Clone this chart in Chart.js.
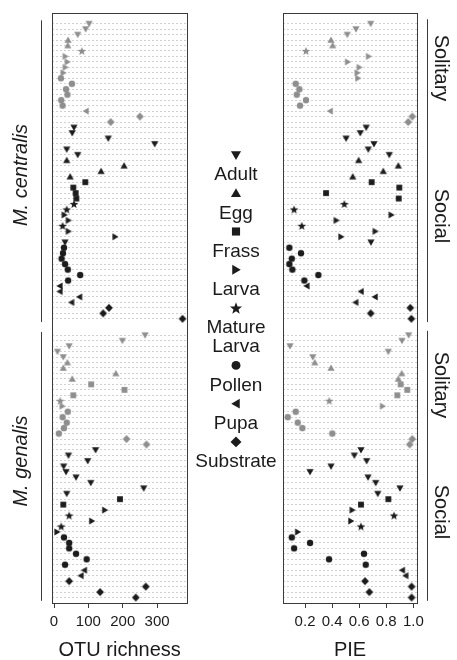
<!DOCTYPE html>
<html><head><meta charset="utf-8">
<script src="https://cdn.jsdelivr.net/npm/chart.js@4/dist/chart.umd.min.js"></script>
<style>
html,body{margin:0;padding:0;background:#fff;overflow:hidden;}
#wrap{position:relative;width:457px;height:660px;}
canvas{position:absolute;top:0;}
#c1{left:0;} #c2{left:270px;}
</style></head><body>
<div id="wrap"><canvas id="c1" width="457" height="660"></canvas><canvas id="c2" width="187" height="660"></canvas></div>
<script>
// ---------- data (rows listed top to bottom) ----------
const TYPE_NAMES = {A:'Adult',E:'Egg',F:'Frass',L:'Larva',M:'Mature Larva',P:'Pollen',U:'Pupa',S:'Substrate'};
const legendTypes = ['A','E','F','L','M','P','U','S'];
const otuTicks = [0, 100, 200, 300];
const pieTicks = [0.2, 0.4, 0.6, 0.8, 1.0];

// M. centralis – Solitary
const cenSolTypeOTU = ['A','A','A','E','E','M','L','L','L','L','P','P','P','P','P','P','U','S','S'];
const cenSolTypePIE = ['A','A','A','E','E','M','L','L','L','L','L','P','P','P','P','P','U','S','S'];
const cenSolOTU = [102, 92, 69, 41, 40, 81, 33, 39, 33, 27, 20, 52, 35, 39, 21, 25, 93, 250, 165];
const cenSolPIE = [0.685, 0.576, 0.512, 0.392, 0.404, 0.207, 0.670, 0.515, 0.601, 0.586, 0.591, 0.131, 0.158, 0.139, 0.207, 0.163, 0.385, 0.992, 0.962];
// M. centralis – Social
const cenSocType = ['A','A','A','A','A','A','E','E','E','E','F','F','F','F','M','M','L','L','M','L','L','A','P','P','P','P','P','P','P','U','U','U','U','S','S','S'];
const cenSocOTU = [58, 53, 158, 293, 37, 69, 37, 204, 137, 47, 91, 56, 63, 65, 58, 37, 30, 42, 25, 42, 178, 32, 29, 26, 22, 32, 40, 76, 41, 17, 17, 74, 51, 160, 143, 374];
const cenSocPIE = [0.652, 0.608, 0.503, 0.709, 0.667, 0.822, 0.596, 0.889, 0.778, 0.552, 0.692, 0.896, 0.355, 0.892, 0.490, 0.119, 0.837, 0.431, 0.176, 0.719, 0.466, 0.687, 0.084, 0.170, 0.102, 0.084, 0.106, 0.298, 0.195, 0.213, 0.613, 0.717, 0.574, 0.977, 0.685, 0.985];
// M. genalis – Solitary
const genSolType = ['A','A','A','A','A','E','E','E','E','F','F','F','M','L','P','P','P','P','P','S','S'];
const genSolOTU = [265, 199, 44, 10, 27, 39, 27, 180, 53, 108, 205, 56, 18, 24, 40, 25, 37, 29, 14, 211, 269];
const genSolPIE = [0.965, 0.916, 0.089, 0.815, 0.257, 0.272, 0.392, 0.914, 0.889, 0.906, 0.955, 0.881, 0.379, 0.773, 0.131, 0.072, 0.146, 0.180, 0.401, 0.992, 0.973];
// M. genalis – Social
const genSocType = ['A','A','A','A','A','A','A','A','A','F','F','L','M','L','M','L','P','P','P','P','P','P','U','U','S','S','S','S'];
const genSocOTU = [121, 42, 98, 28, 35, 64, 107, 261, 37, 192, 27, 148, 44, 110, 21, 9, 29, 44, 44, 64, 95, 32, 88, 78, 44, 267, 134, 238];
const genSocPIE = [0.613, 0.564, 0.655, 0.392, 0.237, 0.665, 0.722, 0.901, 0.737, 0.815, 0.613, 0.549, 0.857, 0.539, 0.613, 0.146, 0.102, 0.237, 0.119, 0.635, 0.377, 0.648, 0.918, 0.943, 0.643, 0.987, 0.675, 0.987];

// ---------- styling / layout ----------
const GRAY = '#8e8e8e', BLACK = '#1c1c1c', TEXT = '#1a1a1a', FRAME = '#3a3a3a';
const FONT = '"Liberation Sans", Arial, Helvetica, sans-serif';
Chart.defaults.font.family = FONT;
Chart.defaults.color = TEXT;

const groups = [
  {species:'M. centralis', social:'Solitary', start:1,  labelY:68,  color:GRAY,  tOTU:cenSolTypeOTU, tPIE:cenSolTypePIE, OTU:cenSolOTU, PIE:cenSolPIE},
  {species:'M. centralis', social:'Social',   start:20, labelY:216, color:BLACK, tOTU:cenSocType,    tPIE:cenSocType,    OTU:cenSocOTU, PIE:cenSocPIE},
  {species:'M. genalis',   social:'Solitary', start:58, labelY:385, color:GRAY,  tOTU:genSolType,    tPIE:genSolType,    OTU:genSolOTU, PIE:genSolPIE},
  {species:'M. genalis',   social:'Social',   start:79, labelY:512, color:BLACK, tOTU:genSocType,    tPIE:genSocType,    OTU:genSocOTU, PIE:genSocPIE}
];
const speciesLabelY = {'M. centralis': 175, 'M. genalis': 461};
const dataRows = [];
groups.forEach(g => g.OTU.forEach((_, i) => dataRows.push(g.start + i)));

function markerPath(ctx, t, x, y, s) {
  ctx.beginPath();
  switch (t) {
    case 'A': ctx.moveTo(x-3.6*s, y-2.7*s); ctx.lineTo(x+3.6*s, y-2.7*s); ctx.lineTo(x, y+3.5*s); break;
    case 'E': ctx.moveTo(x-3.6*s, y+2.7*s); ctx.lineTo(x+3.6*s, y+2.7*s); ctx.lineTo(x, y-3.5*s); break;
    case 'L': ctx.moveTo(x-2.7*s, y-3.5*s); ctx.lineTo(x-2.7*s, y+3.5*s); ctx.lineTo(x+3.4*s, y); break;
    case 'U': ctx.moveTo(x+2.7*s, y-3.5*s); ctx.lineTo(x+2.7*s, y+3.5*s); ctx.lineTo(x-3.4*s, y); break;
    case 'F': ctx.rect(x-2.9*s, y-2.9*s, 5.8*s, 5.8*s); break;
    case 'P': ctx.arc(x, y, 3.2*s, 0, Math.PI*2); break;
    case 'S': ctx.moveTo(x, y-3.9*s); ctx.lineTo(x+3.9*s, y); ctx.lineTo(x, y+3.9*s); ctx.lineTo(x-3.9*s, y); break;
    case 'M':
      for (let k = 0; k < 10; k++) {
        const r = (k % 2 === 0 ? 4.5 : 1.9) * s;
        const a = -Math.PI/2 + k*Math.PI/5;
        const px = x + r*Math.cos(a), py = y + 0.4*s + r*Math.sin(a);
        if (k === 0) ctx.moveTo(px, py); else ctx.lineTo(px, py);
      }
      break;
  }
  ctx.closePath();
  ctx.fill();
}
const markerCache = {};
function markerImg(t, color) {
  const key = t + color;
  if (!markerCache[key]) {
    const c = document.createElement('canvas');
    c.width = 16; c.height = 16;
    const cx = c.getContext('2d');
    cx.fillStyle = color;
    markerPath(cx, t, 8, 8, 1);
    markerCache[key] = c;
  }
  return markerCache[key];
}

function datasets(panel) {
  return groups.map(g => ({
    label: g.species + ' ' + g.social,
    data: g[panel].map((v, i) => ({x: v, y: g.start + i})),
    types: panel === 'OTU' ? g.tOTU : g.tPIE,
    mcolor: g.color,
    pointStyle: ctx => markerImg(ctx.dataset.types[ctx.dataIndex], ctx.dataset.mcolor),
    pointRadius: 4,
    showLine: false
  }));
}

const frame = {
  id: 'frame',
  afterDatasetsDraw(chart) {
    const a = chart.chartArea, ctx = chart.ctx;
    ctx.save();
    ctx.strokeStyle = FRAME; ctx.lineWidth = 1;
    const l = Math.round(a.left) + 0.5, t = Math.round(a.top) + 0.5;
    const r = Math.round(a.right) + 0.5, b = Math.round(a.bottom) + 0.5;
    ctx.strokeRect(l, t, r - l, b - t);
    ctx.restore();
  }
};

const annotations = {
  id: 'annotations',
  afterDraw(chart) {
    const ctx = chart.ctx, ys = chart.scales.y;
    ctx.save();
    ctx.fillStyle = TEXT;
    // legend
    const lines = [];
    legendTypes.forEach(t => {
      lines.push({sym: t});
      TYPE_NAMES[t].split(' ').forEach(w => lines.push({text: w}));
    });
    const cx = 236, y0 = 155, step = 19.125;
    ctx.font = '19px ' + FONT;
    ctx.textAlign = 'center'; ctx.textBaseline = 'middle';
    lines.forEach((ln, i) => {
      const y = y0 + i*step;
      if (ln.sym) { ctx.fillStyle = BLACK; markerPath(ctx, ln.sym, cx, y, 1.4); }
      else { ctx.fillStyle = TEXT; ctx.fillText(ln.text, cx, y + 1); }
    });
    // sociality brackets + labels (right)
    ctx.strokeStyle = FRAME; ctx.lineWidth = 1;
    const spans = {};
    groups.forEach(g => {
      const a = g.start, b = g.start + g.OTU.length - 1;
      if (!spans[g.species]) spans[g.species] = [a, b]; else spans[g.species][1] = b;
      const ya = ys.getPixelForValue(a - 0.8), yb = ys.getPixelForValue(b + 0.6);
      ctx.beginPath(); ctx.moveTo(427.5, ya); ctx.lineTo(427.5, yb); ctx.stroke();
      ctx.save();
      ctx.translate(441, g.labelY);
      ctx.rotate(Math.PI/2);
      ctx.font = '20px ' + FONT; ctx.fillStyle = TEXT;
      ctx.fillText(g.social, 0, 0);
      ctx.restore();
    });
    // species brackets + labels (left)
    Object.keys(spans).forEach(sp => {
      const [a, b] = spans[sp];
      const ya = ys.getPixelForValue(a - 0.6), yb = ys.getPixelForValue(b + 0.6);
      ctx.beginPath(); ctx.moveTo(41.5, ya); ctx.lineTo(41.5, yb); ctx.stroke();
      ctx.save();
      ctx.translate(21, speciesLabelY[sp]);
      ctx.rotate(-Math.PI/2);
      ctx.font = 'italic 20px ' + FONT; ctx.fillStyle = TEXT;
      ctx.fillText(sp, 0, 0);
      ctx.restore();
    });
    ctx.restore();
  }
};

function makeChart(id, panel, xmin, xmax, ticks, fmt, title, padding, extraPlugins) {
  return new Chart(document.getElementById(id), {
    type: 'scatter',
    data: {datasets: datasets(panel)},
    options: {
      responsive: false, animation: false, devicePixelRatio: 1, events: [],
      layout: {padding: padding},
      plugins: {legend: {display: false}, tooltip: {enabled: false}},
      scales: {
        x: {
          type: 'linear', min: xmin, max: xmax,
          afterBuildTicks: s => { s.ticks = ticks.map(v => ({value: v})); },
          afterFit: s => { s.height = 57; },
          ticks: {font: {size: 15}, padding: 5, color: TEXT, maxRotation: 0, autoSkip: false, callback: fmt},
          grid: {drawOnChartArea: false, drawTicks: true, tickLength: 5, tickColor: FRAME, tickWidth: 1},
          border: {display: false},
          title: {display: true, text: title, color: TEXT, font: {size: 20, lineHeight: 1}, padding: {top: 0, bottom: 0}}
        },
        y: {
          type: 'linear', min: -1, max: 107, reverse: true,
          afterBuildTicks: s => { s.ticks = dataRows.map(v => ({value: v})); },
          afterFit: s => { s.width = 0; },
          ticks: {display: false},
          grid: {drawTicks: false, color: '#d0d0d0', lineWidth: 1},
          border: {display: false, dash: [2, 2]}
        }
      }
    },
    plugins: [frame].concat(extraPlugins)
  });
}

makeChart('c1', 'OTU', -5, 387, otuTicks, v => String(v), 'OTU richness',
  {left: 52.3, right: 270, top: 12.7, bottom: 0}, [annotations]);
makeChart('c2', 'PIE', 0.035, 1.029, pieTicks, v => Number(v).toFixed(1), 'PIE',
  {left: 12.7, right: 39.7, top: 12.7, bottom: 0}, []);
</script>
</body></html>
